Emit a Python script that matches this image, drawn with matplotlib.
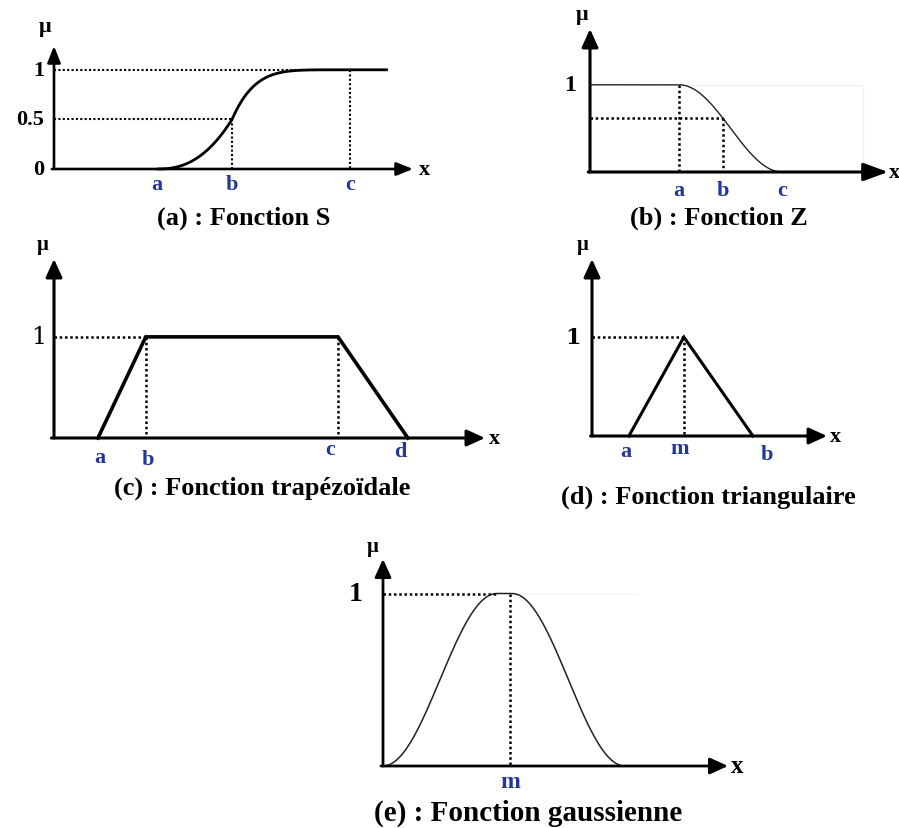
import numpy as np
import matplotlib.pyplot as plt

plt.rcParams["font.family"] = "Liberation Serif"

W, H = 899, 829
BLUE = "#24359c"

# (a) S function: breakpoints on an x axis running 0..10
s_a, s_b, s_c, s_end = 2.87, 4.96, 8.25, 9.3
s_p, s_q = 2.4, 5.5
# (b) Z function
z_a, z_b, z_c, z_end = 2.99, 4.46, 6.45, 9.16
# (c) trapezoid
tr_x = [1.02, 2.13, 6.59, 8.21]
tr_y = [0, 1, 1, 0]
# (d) triangle
tri_x = [1.57, 3.91, 6.85]
tri_y = [0, 1, 0]
# (e) gaussian-like bell
g_start, g_left, g_right, g_end, g_m = 0.0, 3.3, 3.74, 7.01, 3.68

titles = ["(a) : Fonction S", "(b) : Fonction Z", "(c) : Fonction trapézoïdale",
          "(d) : Fonction triangulaire", "(e) : Fonction gaussienne"]


def make_ax(fig, ox, oy, tx, ty, ymax, xmax=10):
    ax = fig.add_axes([ox / W, 1 - oy / H, (tx - ox) / W, (oy - ty) / H])
    ax.set_xlim(0, xmax)
    ax.set_ylim(0, ymax)
    ax.axis("off")
    return ax


def axes_arrows(ax, ymax, lw=2.2, hl=1.1, hw=0.45, xhl=None, xhw=None, xmax=10):
    style = f"-|>,head_length={hl},head_width={hw}"
    xstyle = f"-|>,head_length={xhl or hl},head_width={xhw or hw}"
    ax.annotate("", xy=(0, ymax), xytext=(0, 0), annotation_clip=False,
                arrowprops=dict(arrowstyle=style, lw=lw, color="k",
                                shrinkA=0, shrinkB=0, mutation_scale=10))
    ax.annotate("", xy=(xmax, 0), xytext=(-0.06, 0), annotation_clip=False,
                arrowprops=dict(arrowstyle=xstyle, lw=lw, color="k",
                                shrinkA=0, shrinkB=0, mutation_scale=10))


def label(ax, x, y, s, dx, dy, **kw):
    # dy > 0 moves the text down, in pixels
    kw.setdefault("ha", "center")
    kw.setdefault("va", "center")
    ax.annotate(s, (x, y), xytext=(dx, -dy), textcoords="offset pixels",
                annotation_clip=False, **kw)


def dotted(ax, xs, ys, lw=1.8):
    ax.plot(xs, ys, color="k", lw=lw, linestyle=(0, (1, 1.1)), clip_on=False)


def title(x, y, s, size=19):
    fig.text(x / W, 1 - y / H, s, ha="center", va="center",
             fontsize=size, fontweight="bold")


fig = plt.figure(figsize=(W / 100, H / 100), dpi=100)
fig.patch.set_facecolor("white")

# ---- (a) ----
ax = make_ax(fig, 54, 170, 413, 47, 1.24)
x = np.linspace(s_a, s_end, 400)
y = np.where(x <= s_b, 0.5 * ((x - s_a) / (s_b - s_a)) ** s_p,
             np.where(x <= s_c, 1 - 0.5 * (np.clip(s_c - x, 0, None) / (s_c - s_b)) ** s_q, 1.0))
dotted(ax, [0, s_c], [1, 1], lw=1.5)
dotted(ax, [0, s_b], [0.5, 0.5], lw=1.5)
dotted(ax, [s_b, s_b], [0.5, 0], lw=1.5)
dotted(ax, [s_c, s_c], [1, 0], lw=1.5)
ax.plot(x, y, color="k", lw=2.0, clip_on=False, solid_capstyle="butt")
axes_arrows(ax, 1.24, lw=1.9, hl=1.0, hw=0.4)
for v, s in zip([s_a, s_b, s_c], "abc"):
    label(ax, v, 0, s, 0, 15, color=BLUE, fontsize=16, fontweight="bold")
for v, s in zip([1, 0.5, 0], ["1", "0.5", "0"]):
    label(ax, 0, v, s, -10, 0, ha="right", fontsize=16, fontweight="bold")
label(ax, 0, 1.24, "μ", -9, -20, fontsize=16, fontweight="bold")
label(ax, 10, 0, "x", 11, 0, fontsize=16, fontweight="bold")
title(244, 218, titles[0])

# ---- (b) ----
ax = make_ax(fig, 590, 173, 888, 30, 1.64)
x = np.linspace(0, z_end, 400)
t = np.clip((x - z_a) / (z_c - z_a), 0, 1)
y = (1 + np.cos(np.pi * t)) / 2
yb = (1 + np.cos(np.pi * (z_b - z_a) / (z_c - z_a))) / 2
ax.plot([z_a, z_end, z_end], [1, 1, 0], color="#f0f0f0", lw=1, clip_on=False)
dotted(ax, [z_a, z_a], [1, 0])
dotted(ax, [0, z_b], [yb, yb])
dotted(ax, [z_b, z_b], [yb, 0])
ax.plot(x, y, color="#222222", lw=1.0, clip_on=False)
axes_arrows(ax, 1.64, lw=2.2, hl=1.1, hw=0.5, xhl=1.5, xhw=0.55)
for v, s in zip([z_a, z_b, z_c], "abc"):
    label(ax, v, 0, s, 0, 18, color=BLUE, fontsize=16, fontweight="bold")
label(ax, 0, 1, "1", -20, 0, fontsize=17, fontweight="bold")
label(ax, 0, 1.64, "μ", -8, -15, fontsize=16, fontweight="bold")
label(ax, 10, 0, "x", 1, 0, ha="left", fontsize=16, fontweight="bold")
title(719, 218, titles[1])

# ---- (c) ----
ax = make_ax(fig, 54, 439, 485, 260, 1.77)
dotted(ax, [0, tr_x[1]], [1, 1])
dotted(ax, [tr_x[1], tr_x[1]], [1, 0])
dotted(ax, [tr_x[2], tr_x[2]], [1, 0])
ax.plot(tr_x, tr_y, color="k", lw=2.6, clip_on=False, solid_joinstyle="miter")
axes_arrows(ax, 1.77, lw=2.2, hl=1.1, hw=0.5)
for v, s, dx, dy in zip(tr_x, "abcd", [2, 2, -8, -8], [19, 21, 11, 13]):
    label(ax, v, 0, s, dx, dy, color=BLUE, fontsize=16, fontweight="bold")
label(ax, 0, 1, "1", -15, 0, fontsize=17, family="DejaVu Serif")
label(ax, 0, 1.77, "μ", -11, -15, fontsize=15, fontweight="bold")
label(ax, 10, 0, "x", 4, 0, ha="left", fontsize=16, fontweight="bold")
title(262, 488, titles[2])

# ---- (d) ----
ax = make_ax(fig, 592, 437, 827, 260, 1.79)
dotted(ax, [0, tri_x[1]], [1, 1])
dotted(ax, [tri_x[1], tri_x[1]], [1, 0])
ax.plot(tri_x, tri_y, color="k", lw=2.2, clip_on=False, solid_joinstyle="miter")
axes_arrows(ax, 1.79, lw=2.2, hl=1.1, hw=0.5)
for v, s, dx, dy in zip(tri_x, "amb", [-3, -4, 14], [15, 12, 18]):
    label(ax, v, 0, s, dx, dy, color=BLUE, fontsize=16, fontweight="bold")
label(ax, 0, 1, "1", -19, 0, fontsize=16, fontweight="bold", family="DejaVu Serif")
label(ax, 0, 1.79, "μ", -9, -15, fontsize=15, fontweight="bold")
label(ax, 10, 0, "x", 3, 0, ha="left", fontsize=16, fontweight="bold")
title(708, 497, titles[3])

# ---- (e) ----
ax = make_ax(fig, 383, 767, 728, 560, 1.2)
x = np.linspace(g_start, g_end, 400)
y = np.where(x < g_left, (1 - np.cos(np.pi * (x - g_start) / (g_left - g_start))) / 2,
             np.where(x <= g_right, 1.0,
                      (1 + np.cos(np.pi * (x - g_right) / (g_end - g_right))) / 2))
ax.plot([g_right, 7.36], [1, 1], color="#f3f3f3", lw=1, clip_on=False)
dotted(ax, [0, g_left], [1, 1])
dotted(ax, [g_m, g_m], [1, 0])
ax.plot(x, y, color="#222222", lw=1.1, clip_on=False)
axes_arrows(ax, 1.2, lw=2.0, hl=1.1, hw=0.5)
label(ax, g_m, 0, "m", 0, 16, color=BLUE, fontsize=17, fontweight="bold")
label(ax, 0, 1, "1", -27, 0, fontsize=20, fontweight="bold")
label(ax, 0, 1.2, "μ", -10, -13, fontsize=15, fontweight="bold")
label(ax, 10, 0, "x", 3, 0, ha="left", fontsize=18, fontweight="bold")
title(528, 813, titles[4], size=21)

fig.savefig("out.png", dpi=100)
